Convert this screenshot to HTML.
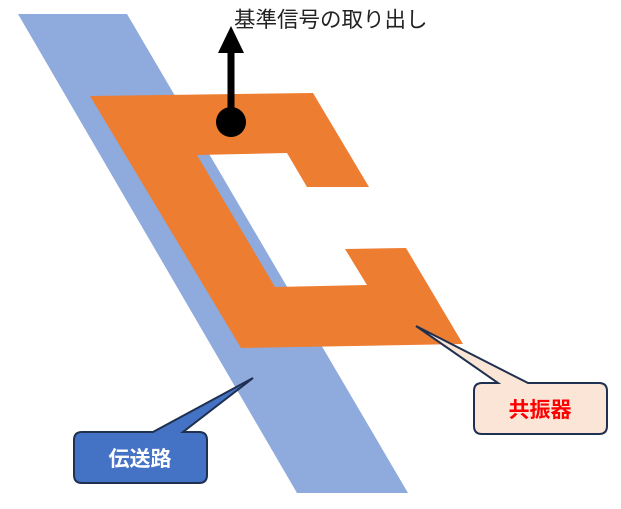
<!DOCTYPE html>
<html><head><meta charset="utf-8"><style>
html,body{margin:0;padding:0;background:#fff;width:621px;height:509px;overflow:hidden}
</style></head><body>
<svg width="621" height="509" viewBox="0 0 621 509" xmlns="http://www.w3.org/2000/svg">
<polygon points="18,14 127,14 408,493 297,493" fill="#8faadc"/>
<polygon points="90,96 313,93 369,187 307,187 287,153 197,155 275,287 367,285 345,249 406,248 463,344 241,348" fill="#ed7d31"/>
<line x1="231" y1="50" x2="231" y2="122" stroke="#000" stroke-width="7"/>
<polygon points="231,26 244,53 218,53" fill="#000"/>
<circle cx="231" cy="122" r="15" fill="#000"/>
<text x="234" y="27" font-family="Liberation Sans, Noto Sans CJK JP, sans-serif" font-size="21.5" fill="#222">基準信号の取り出し</text>
<path d="M82,432 L153,432 L253,378 L183,432 L199,432 Q207,432 207,440 L207,475 Q207,483 199,483 L82,483 Q74,483 74,475 L74,440 Q74,432 82,432 Z" fill="#4472c4" stroke="#1f3050" stroke-width="2"/>
<text x="140" y="466" text-anchor="middle" font-family="Liberation Sans, Noto Sans CJK JP, sans-serif" font-size="21" font-weight="bold" fill="#fff">伝送路</text>
<path d="M482,383 L498,383 L416,326 L528,383 L599,383 Q607,383 607,391 L607,426 Q607,434 599,434 L482,434 Q474,434 474,426 L474,391 Q474,383 482,383 Z" fill="#fbe5d6" stroke="#1f3050" stroke-width="2"/>
<text x="540" y="417" text-anchor="middle" font-family="Liberation Sans, Noto Sans CJK JP, sans-serif" font-size="21" font-weight="bold" fill="#ff0000">共振器</text>
</svg>
</body></html>
